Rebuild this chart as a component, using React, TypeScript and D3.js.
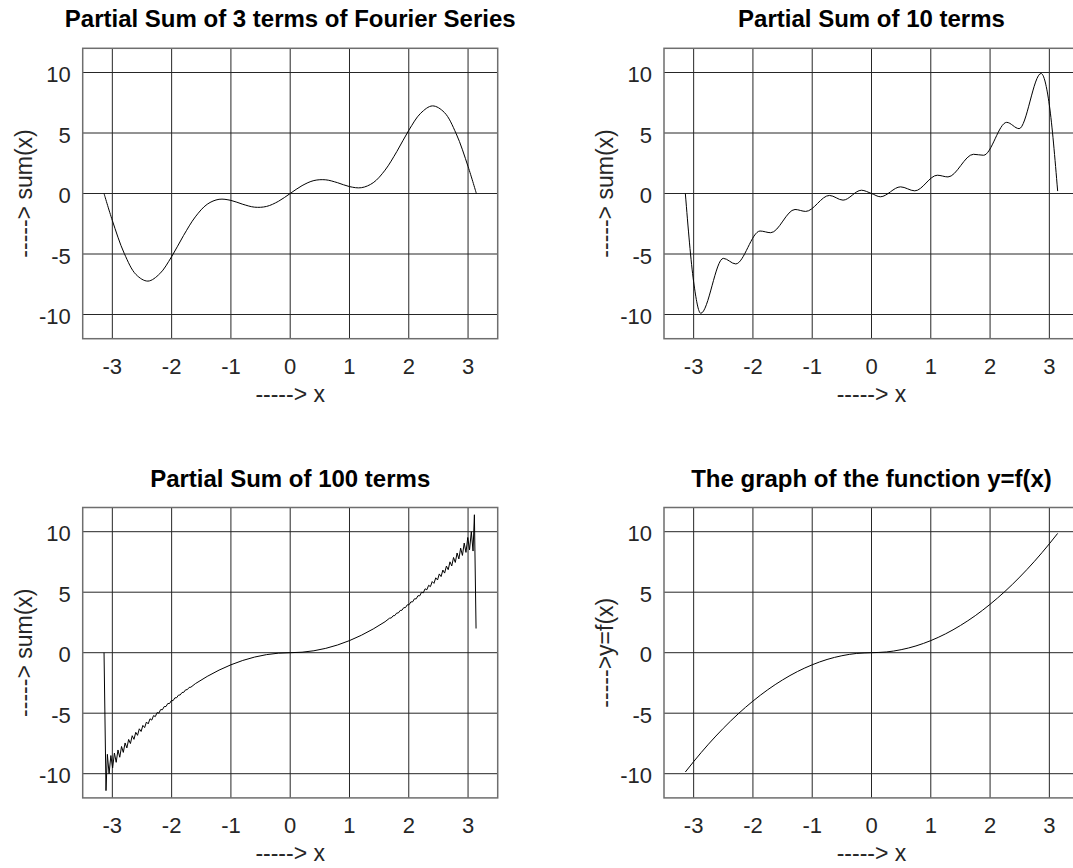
import React from 'react';
import * as d3 from 'd3';

// values
const X_TICKS = [-3, -2, -1, 0, 1, 2, 3];
const Y_TICKS = [-10, -5, 0, 5, 10];

const S3_X = [-3.14, -3.0, -2.8, -2.6, -2.4, -2.2, -2.0, -1.8, -1.6, -1.4, -1.2, -1.0, -0.8, -0.6, -0.4, -0.2, 0,
  0.2, 0.4, 0.6, 0.8, 1.0, 1.2, 1.4, 1.6, 1.8, 2.0, 2.2, 2.4, 2.6, 2.8, 3.0, 3.14];
const S3_Y = [0, -2.23, -4.94, -6.7, -7.24, -6.63, -5.22, -3.48, -1.93, -0.89, -0.48, -0.57, -0.89, -1.13, -1.07, -0.65, 0,
  0.65, 1.07, 1.13, 0.89, 0.57, 0.48, 0.89, 1.93, 3.48, 5.22, 6.63, 7.24, 6.7, 4.94, 2.23, 0];

const S10_X = [-3.14, -3.0, -2.88, -2.5, -2.29, -1.88, -1.7, -1.29, -1.11, -0.71, -0.48, -0.17, 0, 0.15,
  0.49, 0.73, 1.11, 1.29, 1.72, 1.89, 2.28, 2.49, 2.86, 3.0, 3.14];
const S10_Y = [0, -7.3, -9.9, -5.36, -5.82, -3.1, -3.24, -1.32, -1.48, -0.16, -0.55, 0.27, 0, -0.27,
  0.55, 0.22, 1.51, 1.37, 3.24, 3.16, 5.88, 5.36, 9.92, 7.3, 0.2];

// 100 terms: jump at the ends, then a fine saw-tooth that fades toward the middle
const S100_X = [-3.14, -3.107, -3.084, -3.055, -3.025, -2.995, -2.965, -2.935, -2.905, -2.875, -2.845, -2.815,
  -2.785, -2.755, -2.725, -2.695, -2.665, -2.635, -2.605, -2.575, -2.545, -2.515, -2.485, -2.455, -2.425, -2.395,
  -2.365, -2.335, -2.305, -2.275, -2.245, -2.215, -2.185, -2.155, -2.125, -2.095, -2.065, -2.035, -2.005, -1.975,
  -1.945, -1.915, -1.885, -1.855, -1.825, -1.795, -1.765, -1.735, -1.705, -1.675,
  -1.6, -1.4, -1.2, -1.0, -0.8, -0.6, -0.4, -0.2, 0, 0.2, 0.4, 0.6, 0.8, 1.0, 1.2, 1.4, 1.6,
  1.675, 1.705, 1.735, 1.765, 1.795, 1.825, 1.855, 1.885, 1.915, 1.945, 1.975, 2.005, 2.035, 2.065, 2.095, 2.125,
  2.155, 2.185, 2.215, 2.245, 2.275, 2.305, 2.335, 2.365, 2.395, 2.425, 2.455, 2.485, 2.515, 2.545, 2.575, 2.605,
  2.635, 2.665, 2.695, 2.725, 2.755, 2.785, 2.815, 2.845, 2.875, 2.905, 2.935, 2.965, 2.995, 3.025, 3.055, 3.084,
  3.107, 3.135];
const S100_Y = [0, -11.4, -8.4, -10.0, -8.5, -9.52, -8.29, -9.06, -8.04, -8.64, -7.75, -8.24,
  -7.46, -7.87, -7.17, -7.51, -6.86, -7.16, -6.58, -6.83, -6.29, -6.51, -6.01, -6.19, -5.73, -5.88,
  -5.46, -5.57, -5.2, -5.28, -4.95, -4.99, -4.7, -4.71, -4.45, -4.45, -4.2, -4.2, -3.96, -3.96,
  -3.73, -3.72, -3.51, -3.49, -3.29, -3.27, -3.07, -3.05, -2.87, -2.85,
  -2.56, -1.96, -1.44, -1.0, -0.64, -0.36, -0.16, -0.04, 0, 0.04, 0.16, 0.36, 0.64, 1.0, 1.44, 1.96, 2.56,
  2.85, 2.87, 3.05, 3.07, 3.27, 3.29, 3.49, 3.51, 3.72, 3.73, 3.96, 3.96, 4.2, 4.2, 4.45, 4.45,
  4.71, 4.7, 4.99, 4.95, 5.28, 5.2, 5.57, 5.46, 5.88, 5.73, 6.19, 6.01, 6.51, 6.29, 6.83, 6.58,
  7.16, 6.86, 7.51, 7.17, 7.87, 7.46, 8.24, 7.75, 8.64, 8.04, 9.06, 8.29, 9.52, 8.5, 10.0, 8.4,
  11.4, 2.0];

const F_X = [-3.14, -3, -2.75, -2.5, -2.25, -2, -1.75, -1.5, -1.25, -1, -0.75, -0.5, -0.25, 0,
  0.25, 0.5, 0.75, 1, 1.25, 1.5, 1.75, 2, 2.25, 2.5, 2.75, 3, 3.14];
const F_Y = [-9.86, -9, -7.56, -6.25, -5.06, -4, -3.06, -2.25, -1.56, -1, -0.56, -0.25, -0.06, 0,
  0.06, 0.25, 0.56, 1, 1.56, 2.25, 3.06, 4, 5.06, 6.25, 7.56, 9, 9.86];

const FONT = '"Liberation Sans", Arial, Helvetica, sans-serif';

type PanelProps = {
  title: string;
  ylabel: string;
  xs: number[];
  ys: number[];
  x0: number; // left edge of the axes box
  y0: number; // top edge of the axes box
  curve: d3.CurveFactory;
};

const BOX_W = 415;
const BOX_H = 290.4;

function Panel({ title, ylabel, xs, ys, x0, y0, curve }: PanelProps) {
  const x = d3.scaleLinear().domain([-3.5, 3.5]).range([x0, x0 + BOX_W]);
  const y = d3.scaleLinear().domain([-12, 12]).range([y0 + BOX_H, y0]);
  const pts = xs.map((v, i) => [v, ys[i]] as [number, number]);
  const line = d3.line<[number, number]>()
    .x(d => x(d[0]))
    .y(d => y(d[1]))
    .curve(curve);
  const cx = x(0);
  const cy = y(0);

  return (
    <g fontFamily={FONT} fill="#000">
      <text x={cx} y={y0 - 21} textAnchor="middle" fontSize={24} fontWeight="bold">{title}</text>
      {X_TICKS.map(t => (
        <line key={'gx' + t} x1={x(t)} x2={x(t)} y1={y0} y2={y0 + BOX_H} stroke="#262626" strokeWidth={1} />
      ))}
      {Y_TICKS.map(t => (
        <line key={'gy' + t} x1={x0} x2={x0 + BOX_W} y1={y(t)} y2={y(t)} stroke="#262626" strokeWidth={1} />
      ))}
      <rect x={x0} y={y0} width={BOX_W} height={BOX_H} fill="none" stroke="#6e6e6e" strokeWidth={1.5} />
      <path d={line(pts) || ''} fill="none" stroke="#000" strokeWidth={1} />
      {X_TICKS.map(t => (
        <text key={'tx' + t} x={x(t)} y={y0 + BOX_H + 35} textAnchor="middle" fontSize={22} fill="#262626">{t}</text>
      ))}
      {Y_TICKS.map(t => (
        <text key={'ty' + t} x={x0 - 12} y={y(t) + 9.5} textAnchor="end" fontSize={22} fill="#262626">{t}</text>
      ))}
      <text x={cx} y={y0 + BOX_H + 63.5} textAnchor="middle" fontSize={23} fill="#262626">-----&gt; x</text>
      <text transform={`translate(${x0 - 51},${cy}) rotate(-90)`} textAnchor="middle" fontSize={23} fill="#262626">{ylabel}</text>
    </g>
  );
}

export default function App() {
  return (
    <div style={{ position: 'absolute', left: 0, top: 0 }}>
      <svg width={1073} height={868} style={{ display: 'block', background: '#fff' }}>
        <Panel title="Partial Sum of 3 terms of Fourier Series" ylabel="-----> sum(x)"
          xs={S3_X} ys={S3_Y} x0={82.7} y0={48.3} curve={d3.curveCatmullRom} />
        <Panel title="Partial Sum of 10 terms" ylabel="-----> sum(x)"
          xs={S10_X} ys={S10_Y} x0={664} y0={48.3} curve={d3.curveMonotoneX} />
        <Panel title="Partial Sum of 100 terms" ylabel="-----> sum(x)"
          xs={S100_X} ys={S100_Y} x0={82.7} y0={507.5} curve={d3.curveLinear} />
        <Panel title="The graph of the function y=f(x)" ylabel="----->y=f(x)"
          xs={F_X} ys={F_Y} x0={664} y0={507.5} curve={d3.curveMonotoneX} />
      </svg>
    </div>
  );
}
